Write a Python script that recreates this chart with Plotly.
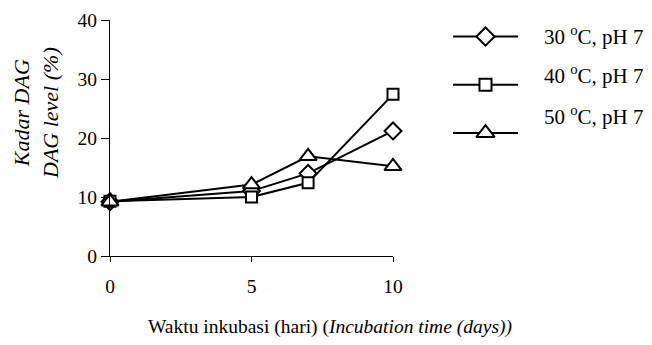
import plotly.graph_objects as go

days = [0, 5, 7, 10]
dag_30 = [9.2, 11.0, 14.0, 21.2]
dag_40 = [9.3, 10.0, 12.4, 27.4]
dag_50 = [9.2, 12.1, 16.9, 15.2]
series_names = ["30 <sup>o</sup>C, pH 7", "40 <sup>o</sup>C, pH 7", "50 <sup>o</sup>C, pH 7"]
symbols = ["diamond", "square", "triangle-up"]
sizes = [13, 11, 15]
yticks = [0, 10, 20, 30, 40]
xticks = [0, 5, 10]

FONT = "Liberation Serif, Times New Roman, serif"
fig = go.Figure()

for vals, sym, sz in zip([dag_30, dag_40, dag_50], symbols, sizes):
    fig.add_trace(go.Scatter(
        x=days, y=vals, mode="lines+markers",
        line=dict(color="black", width=2),
        marker=dict(symbol=sym, size=sz, color="white", line=dict(width=2, color="black")),
        cliponaxis=False, showlegend=False, xaxis="x", yaxis="y"))

# manual legend on its own small axes
legend_y = [0, 1, 2]
legend_text_y = [36, 75, 115]  # pixel rows of the legend labels
for i, (sym, sz) in enumerate(zip(symbols, sizes)):
    fig.add_trace(go.Scatter(x=[0, 1], y=[legend_y[i]] * 2, mode="lines",
                             line=dict(color="black", width=2),
                             showlegend=False, xaxis="x2", yaxis="y2", hoverinfo="skip"))
    fig.add_trace(go.Scatter(x=[0.5], y=[legend_y[i]], mode="markers",
                             marker=dict(symbol=sym, size=sz + 1, color="white",
                                         line=dict(width=2, color="black")),
                             showlegend=False, xaxis="x2", yaxis="y2", cliponaxis=False,
                             hoverinfo="skip"))
    fig.add_annotation(x=542/652, y=(345 - legend_text_y[i])/345, xref="paper", yref="paper",
                       text=series_names[i],
                       showarrow=False, xanchor="left", yanchor="middle",
                       font=dict(family=FONT, size=21, color="black"))

fig.update_layout(
    width=652, height=345, margin=dict(l=0, r=0, t=0, b=0, autoexpand=False),
    paper_bgcolor="white", plot_bgcolor="white",
    font=dict(family=FONT, size=19.5, color="black"),
    xaxis=dict(domain=[110/652, 393/652], range=[0, 10], tickvals=xticks,
               showline=True, linecolor="black", linewidth=1, ticks="outside",
               ticklen=5, tickcolor="black", showgrid=False, zeroline=False,
               ticklabelstandoff=8, automargin=False),
    yaxis=dict(domain=[(345-256)/345, (345-20)/345], range=[0, 40], tickvals=yticks,
               showline=True, linecolor="black", linewidth=1, ticks="outside",
               ticklen=8, tickcolor="black", showgrid=False, zeroline=False,
               automargin=False),
    xaxis2=dict(domain=[453/652, 518/652], range=[0, 1], visible=False, anchor="y2"),
    yaxis2=dict(domain=[(345-150)/345, (345-10)/345], range=[2.35, -0.55],
                visible=False, anchor="x2"),
)

fig.add_annotation(x=330/652, y=(345-327)/345, xref="paper", yref="paper",
                   text="Waktu inkubasi (hari) (<i>Incubation time (days))</i>",
                   showarrow=False, xanchor="center", yanchor="middle",
                   font=dict(family=FONT, size=19.5))
fig.add_annotation(x=36/652, y=(345-113)/345, xref="paper", yref="paper",
                   text="<i>Kadar DAG<br>DAG level (%)</i>", textangle=-90,
                   showarrow=False, xanchor="center", yanchor="middle",
                   font=dict(family=FONT, size=22))

fig.write_html("out.html")
